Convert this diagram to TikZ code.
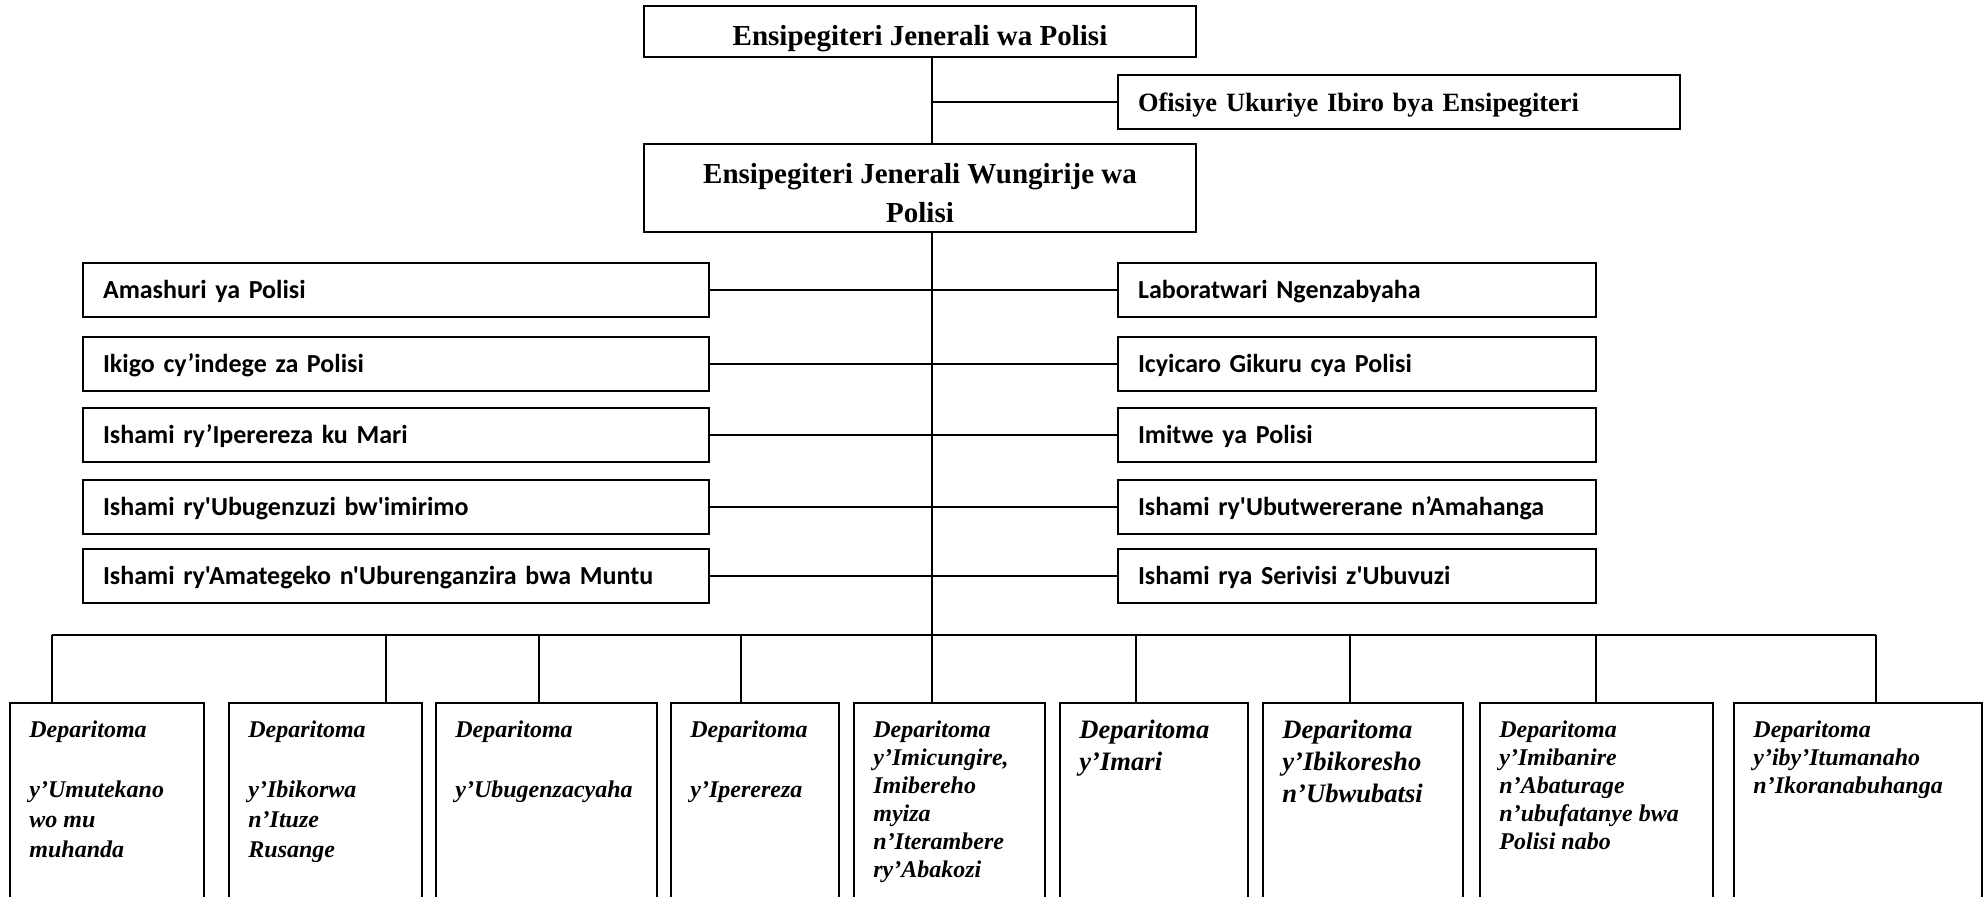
\documentclass[tikz,border=0pt]{standalone}
\usepackage{amsmath, amsfonts, amssymb}
\usepackage{xcolor}
\usepackage{fontspec}
\setmainfont{Liberation Serif}
\newfontfamily\calfont{Carlito}
\usepackage{tikz}

\tikzset{
  box/.style={draw, line width=1.3pt, inner sep=0pt, outer sep=0pt},
  headbox/.style={box, minimum width=276pt, align=center, font=\bfseries\fontsize{14.5}{19.5}\selectfont},
  unitbox/.style={box, inner xsep=10pt, minimum height=27pt, text height=9pt, text depth=0pt, align=left, font=\calfont\bfseries\fontsize{13}{15}\selectfont},
  deptbox/.style={box, minimum height=101pt},
  depttext/.style={anchor=north west, inner sep=0pt, align=left, font=\bfseries\itshape\fontsize{12}{15}\selectfont},
  link/.style={line width=1pt},
}

\begin{document}
\begin{tikzpicture}[x=0.5pt, y=-0.5pt]
\useasboundingbox (0,0) rectangle (1986,897);
\clip (0,0) rectangle (1986,897);
% top of the chart
\node[headbox, minimum height=25.5pt, text height=14.5pt, text depth=0pt] (ig) at (920,31.5) {Ensipegiteri Jenerali wa Polisi};
\node[unitbox, text width=261pt, text height=10pt, font=\bfseries\fontsize{13.2}{15}\selectfont] (ofs) at (1399,102) {Ofisiye Ukuriye Ibiro bya Ensipegiteri};
\node[headbox, minimum height=44pt] (dig) at (920,188) {\rule{0pt}{15pt}Ensipegiteri Jenerali Wungirije wa\\Polisi};
\node[unitbox, text width=293pt] (l1) at (396,290) {Amashuri ya Polisi};
\node[unitbox, text width=293pt] (l2) at (396,364) {Ikigo cy’indege za Polisi};
\node[unitbox, text width=293pt] (l3) at (396,435) {Ishami ry’Iperereza ku Mari};
\node[unitbox, text width=293pt] (l4) at (396,507) {Ishami ry'Ubugenzuzi bw'imirimo};
\node[unitbox, text width=293pt] (l5) at (396,576) {Ishami ry'Amategeko n'Uburenganzira bwa Muntu};
\node[unitbox, text width=219pt] (r1) at (1357,290) {Laboratwari Ngenzabyaha};
\node[unitbox, text width=219pt] (r2) at (1357,364) {Icyicaro Gikuru cya Polisi};
\node[unitbox, text width=219pt] (r3) at (1357,435) {Imitwe ya Polisi};
\node[unitbox, text width=219pt] (r4) at (1357,507) {Ishami ry'Ubutwererane n’Amahanga};
\node[unitbox, text width=219pt] (r5) at (1357,576) {Ishami rya Serivisi z'Ubuvuzi};
% departments, cut by the page bottom
\node[deptbox, minimum width=97pt] (d1) at (107,804) {};
\node[deptbox, minimum width=96.5pt] (d2) at (325.5,804) {};
\node[deptbox, minimum width=110.5pt] (d3) at (546.5,804) {};
\node[deptbox, minimum width=84pt] (d4) at (755,804) {};
\node[deptbox, minimum width=95.5pt] (d5) at (949.5,804) {};
\node[deptbox, minimum width=94pt] (d6) at (1154,804) {};
\node[deptbox, minimum width=100pt] (d7) at (1363,804) {};
\node[deptbox, minimum width=116.5pt] (d8) at (1596.5,804) {};
\node[deptbox, minimum width=124pt] (d9) at (1858,804) {};
\node[depttext] (t1) at ([xshift=9.5pt,yshift=-8.5pt]d1.north west) {Deparitoma\\[15pt]y’Umutekano\\wo mu\\muhanda};
\node[depttext] (t2) at ([xshift=9.5pt,yshift=-8.5pt]d2.north west) {Deparitoma\\[15pt]y’Ibikorwa\\n’Ituze\\Rusange};
\node[depttext] (t3) at ([xshift=9.5pt,yshift=-8.5pt]d3.north west) {Deparitoma\\[15pt]y’Ubugenzacyaha};
\node[depttext] (t4) at ([xshift=9.5pt,yshift=-8.5pt]d4.north west) {Deparitoma\\[15pt]y’Iperereza};
\node[depttext, font=\bfseries\itshape\fontsize{12}{14}\selectfont] (t5) at ([xshift=9.5pt,yshift=-8.5pt]d5.north west) {Deparitoma\\y’Imicungire,\\Imibereho\\myiza\\n’Iterambere\\ry’Abakozi};
\node[depttext, font=\bfseries\itshape\fontsize{13.3}{16}\selectfont] (t6) at ([xshift=9.5pt,yshift=-8.5pt]d6.north west) {Deparitoma\\y’Imari};
\node[depttext, font=\bfseries\itshape\fontsize{13.3}{16}\selectfont] (t7) at ([xshift=9.5pt,yshift=-8.5pt]d7.north west) {Deparitoma\\y’Ibikoresho\\n’Ubwubatsi};
\node[depttext, font=\bfseries\itshape\fontsize{12}{14}\selectfont] (t8) at ([xshift=9.5pt,yshift=-8.5pt]d8.north west) {Deparitoma\\y’Imibanire\\n’Abaturage\\n’ubufatanye bwa\\Polisi nabo};
\node[depttext, font=\bfseries\itshape\fontsize{12}{14}\selectfont] (t9) at ([xshift=9.5pt,yshift=-8.5pt]d9.north west) {Deparitoma\\y’iby’Itumanaho\\n’Ikoranabuhanga};
% bus and drops
\coordinate (b1) at (52,635);
\coordinate (b2) at (386,635);
\coordinate (b3) at (539,635);
\coordinate (b4) at (741,635);
\coordinate (b5) at (932,635);
\coordinate (b6) at (1136,635);
\coordinate (b7) at (1350,635);
\coordinate (b8) at (1596,635);
\coordinate (b9) at (1876,635);
\draw[link] (b5 |- ig.south) -- (b5 |- dig.north);
\draw[link] (ofs.west) -- (ofs.west -| b5);
\draw[link] (b5 |- dig.south) -- (b5 |- d5.north);
\draw[link] (l1.east) -- (r1.west);
\draw[link] (l2.east) -- (r2.west);
\draw[link] (l3.east) -- (r3.west);
\draw[link] (l4.east) -- (r4.west);
\draw[link] (l5.east) -- (r5.west);
\draw[link] (b1) -- (b9);
\draw[link] (b1) -- (b1 |- d1.north);
\draw[link] (b2) -- (b2 |- d2.north);
\draw[link] (b3) -- (b3 |- d3.north);
\draw[link] (b4) -- (b4 |- d4.north);
\draw[link] (b6) -- (b6 |- d6.north);
\draw[link] (b7) -- (b7 |- d7.north);
\draw[link] (b8) -- (b8 |- d8.north);
\draw[link] (b9) -- (b9 |- d9.north);
\end{tikzpicture}
\end{document}
